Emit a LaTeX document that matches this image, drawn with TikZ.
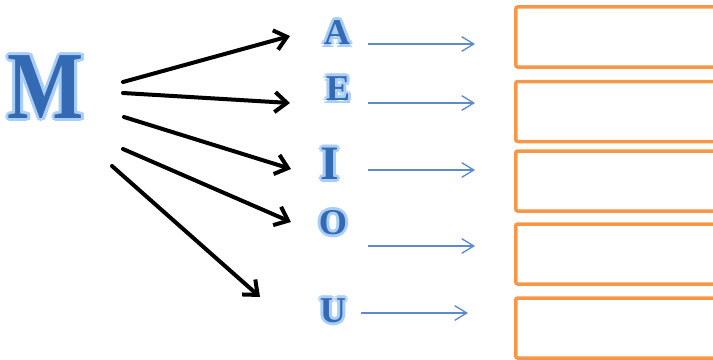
\documentclass[tikz,border=0pt]{standalone}
\usepackage{fontspec}
\setmainfont{Liberation Serif}
\usetikzlibrary{arrows.meta}
\pgfdeclarelayer{background}
\pgfsetlayers{background,main}
\definecolor{vowel}{HTML}{3469B3}
\definecolor{glowblue}{HTML}{A9CEF6}
\definecolor{thinblue}{HTML}{5B8BCB}
\definecolor{boxorange}{HTML}{F79646}
\tikzset{
  big/.style={font=\fontsize{82}{85}\selectfont\bfseries, inner sep=0pt},
  small/.style={font=\fontsize{31}{34}\selectfont\bfseries, inner sep=0pt},
  tall/.style={font=\fontsize{41}{44}\selectfont\bfseries, inner sep=0pt},
  box/.style={draw=boxorange, line width=3.5*0.3mm, rounded corners=0.6mm,
    minimum width=72mm, minimum height=18mm, anchor=west},
}
\begin{document}
\begin{tikzpicture}[x=0.3mm, y=-0.3mm]
  \useasboundingbox (0,0) rectangle (713,360);
  \clip (0,0) rectangle (713,360);
  \draw
    (46,87) node[big, text=vowel] (m) {\scalebox{0.84}[1]{M}}
    (337,33) node[small, text=vowel] (a) {A}
    (338,89) node[small, text=vowel] (e) {E}
    (330,164) node[tall, text=vowel] (i) {I}
    (333,223) node[small, text=vowel] (o) {O}
    (333,311) node[small, text=vowel] (u) {U};
  % glow behind the letters
  \begin{pgfonlayer}{background}
    \foreach \t/\n/\f in {\scalebox{0.84}[1]{M}/m/big, A/a/small, E/e/small,
        I/i/tall, O/o/small, U/u/small}
      \foreach \w in {0,45,...,315}
        \node[\f, text=glowblue, shift={(\w:3)}] at (\n) {\t};
  \end{pgfonlayer}
  % answer boxes
  \node[box] (b1) at (514,37) {};
  \node[box] (b2) at (514,111.5) {};
  \node[box] (b3) at (514,181) {};
  \node[box] (b4) at (514,254) {};
  \node[box] (b5) at (514,328) {};
  % arrow ends
  \coordinate (m1) at (123,82);  \coordinate (a1) at (290,36);
  \coordinate (m2) at (123,93);  \coordinate (e1) at (290,103);
  \coordinate (m3) at (124,117); \coordinate (i1) at (291,169);
  \coordinate (m4) at (123,149); \coordinate (o1) at (291,222);
  \coordinate (m5) at (112,166); \coordinate (u1) at (260,297);
  \coordinate (a2) at (368,44);  \coordinate (a3) at (475,44);
  \coordinate (e2) at (368,103); \coordinate (e3) at (475,103);
  \coordinate (i2) at (368,170); \coordinate (i3) at (475,170);
  \coordinate (o2) at (368,246); \coordinate (o3) at (475,246);
  \coordinate (u2) at (361,313); \coordinate (u3) at (468,313);
  \begin{scope}[-{Straight Barb[length=3.6mm, width=6mm]}, line width=1.2mm,
      line cap=round, line join=round]
    \draw (m1) to (a1);
    \draw (m2) to (e1);
    \draw (m3) to (i1);
    \draw (m4) to (o1);
    \draw (m5) to (u1);
  \end{scope}
  \begin{scope}[-{Straight Barb[length=3.6mm, width=4.4mm]}, thinblue,
      line width=0.4mm]
    \draw (a2) to (a3);
    \draw (e2) to (e3);
    \draw (i2) to (i3);
    \draw (o2) to (o3);
    \draw (u2) to (u3);
  \end{scope}
\end{tikzpicture}
\end{document}
